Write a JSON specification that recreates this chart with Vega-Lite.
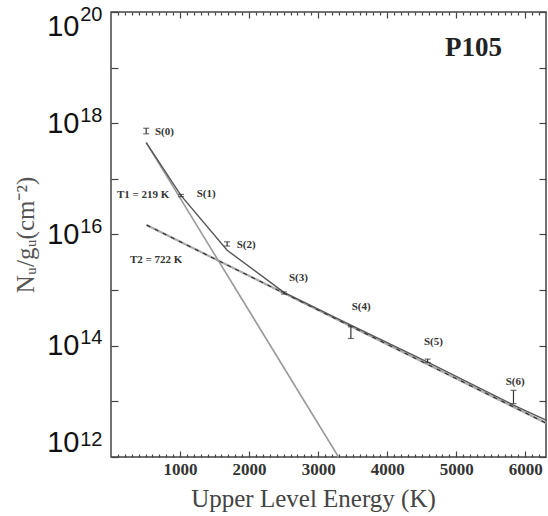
{
  "$schema": "https://vega.github.io/schema/vega-lite/v6.json",
  "width": 435,
  "height": 445,
  "autosize": "none",
  "padding": {"left": 111, "top": 12, "right": 2, "bottom": 59},
  "background": "white",
  "config": {
    "view": {"stroke": "#444", "strokeWidth": 1.5},
    "axis": {"domain": false, "grid": false, "tickColor": "#444", "tickWidth": 1.2}
  },
  "datasets": {
    "lines": [
      {"series": "T2", "E": 515, "N": 1.48e16},
      {"series": "T2", "E": 6300, "N": 4.07e12},
      {"series": "T1", "E": 510, "N": 4.47e17},
      {"series": "T1", "E": 3295, "N": 1e12},
      {"series": "Fit", "E": 510, "N": 4.47e17},
      {"series": "Fit", "E": 1015, "N": 5.0e16},
      {"series": "Fit", "E": 1682, "N": 5.2e15},
      {"series": "Fit", "E": 2504, "N": 9.1e14},
      {"series": "Fit", "E": 3474, "N": 2.34e14},
      {"series": "Fit", "E": 4586, "N": 5.1e13},
      {"series": "Fit", "E": 5829, "N": 8.6e12},
      {"series": "Fit", "E": 6300, "N": 4.6e12}
    ],
    "points": [
      {"name": "S(0)", "E": 510, "lo": 6.46e17, "hi": 8.13e17},
      {"name": "S(1)", "E": 1015, "lo": 4.8e16, "hi": 5.25e16},
      {"name": "S(2)", "E": 1682, "lo": 6.2e15, "hi": 7.4e15},
      {"name": "S(3)", "E": 2504, "lo": 8.5e14, "hi": 9.3e14},
      {"name": "S(4)", "E": 3474, "lo": 1.35e14, "hi": 2.19e14},
      {"name": "S(5)", "E": 4586, "lo": 5.0e13, "hi": 5.75e13},
      {"name": "S(6)", "E": 5829, "lo": 9.1e12, "hi": 1.58e13}
    ],
    "labels": [
      {"label": "S(0)", "E": 637, "N": 7.1e17},
      {"label": "T1 = 219 K", "E": 87, "N": 5.1e16},
      {"label": "S(1)", "E": 1241, "N": 5.4e16},
      {"label": "S(2)", "E": 1820, "N": 6.5e15},
      {"label": "T2 = 722 K", "E": 275, "N": 3.5e15},
      {"label": "S(3)", "E": 2578, "N": 1.66e15},
      {"label": "S(4)", "E": 3485, "N": 5.0e14},
      {"label": "S(5)", "E": 4533, "N": 1.17e14},
      {"label": "S(6)", "E": 5716, "N": 2.24e13}
    ],
    "title": [
      {"label": "P105", "E": 4837, "N": 2.3e19}
    ]
  },
  "resolve": {"axis": {"x": "independent", "y": "independent"}},
  "layer": [
    {
      "data": {"name": "lines"},
      "transform": [{"filter": "datum.series == 'T2'"}],
      "mark": {"type": "line", "color": "#aaaaaa", "strokeWidth": 2.2},
      "encoding": {
        "x": {"field": "E", "type": "quantitative",
          "scale": {"domain": [0, 6300], "nice": false, "zero": false},
          "axis": {"orient": "bottom", "values": [1000, 2000, 3000, 4000, 5000, 6000],
            "tickSize": -6, "labelPadding": 10, "labelFont": "Liberation Serif", "labelFontWeight": "bold",
            "labelFontSize": 17, "labelColor": "#333", "format": "d",
            "title": "Upper Level Energy (K)", "titleFont": "Liberation Serif", "titleFontWeight": "normal",
            "titleFontSize": 25, "titleColor": "#444", "titleX": 202, "titleY": 49,
            "titleAlign": "center", "titleBaseline": "alphabetic"}},
        "y": {"field": "N", "type": "quantitative",
          "scale": {"type": "log", "domain": [1e12, 1e20], "nice": false},
          "axis": {"orient": "left", "values": [1e12, 1e13, 1e14, 1e15, 1e16, 1e17, 1e18, 1e19, 1e20],
            "tickSize": -7, "labelPadding": 39, "labelFlush": true,
            "labelExpr": "round(log(datum.value)/LN10) % 2 == 0 ? '10' : ''",
            "labelFont": "Liberation Sans", "labelFontSize": 29, "labelColor": "#111",
            "title": "Nᵤ/gᵤ(cm⁻²)", "titleFont": "Liberation Serif", "titleFontWeight": "normal",
            "titleFontSize": 25, "titleColor": "#555", "titlePadding": 8}},
        "detail": {"field": "series"}
      }
    },
    {
      "data": {"name": "lines"},
      "transform": [{"filter": "datum.series == 'T2'"}],
      "mark": {"type": "line", "color": "#333333", "strokeWidth": 1.3, "strokeDash": [4, 5]},
      "encoding": {
        "x": {"field": "E", "type": "quantitative",
          "axis": {"orient": "bottom", "values": [100,200,300,400,500,600,700,800,900,1100,1200,1300,1400,1500,1600,1700,1800,1900,2100,2200,2300,2400,2500,2600,2700,2800,2900,3100,3200,3300,3400,3500,3600,3700,3800,3900,4100,4200,4300,4400,4500,4600,4700,4800,4900,5100,5200,5300,5400,5500,5600,5700,5800,5900,6100,6200],
            "tickSize": -3, "labels": false, "title": null}},
        "y": {"field": "N", "type": "quantitative",
          "axis": {"orient": "right", "values": [1e12, 1e13, 1e14, 1e15, 1e16, 1e17, 1e18, 1e19, 1e20],
            "tickSize": -7, "labels": false, "title": null}}
      }
    },
    {
      "data": {"name": "lines"},
      "transform": [{"filter": "datum.series == 'T1'"}],
      "mark": {"type": "line", "color": "#999999", "strokeWidth": 1.6, "clip": true},
      "encoding": {
        "x": {"field": "E", "type": "quantitative",
          "axis": {"orient": "top", "values": [1000, 2000, 3000, 4000, 5000, 6000],
            "tickSize": -6, "labels": false, "title": null}},
        "y": {"field": "N", "type": "quantitative",
          "axis": {"orient": "left", "values": [1e12, 1e14, 1e16, 1e18, 1e20],
            "ticks": false, "labelPadding": 9, "labelFlush": true, "labelOffset": -8,
            "labelExpr": "'' + round(log(datum.value)/LN10)",
            "labelFont": "Liberation Sans", "labelFontSize": 20, "labelColor": "#111", "title": null}}
      }
    },
    {
      "data": {"name": "lines"},
      "transform": [{"filter": "datum.series == 'Fit'"}],
      "mark": {"type": "line", "color": "#555555", "strokeWidth": 1.4},
      "encoding": {
        "x": {"field": "E", "type": "quantitative",
          "axis": {"orient": "top", "values": [100,200,300,400,500,600,700,800,900,1100,1200,1300,1400,1500,1600,1700,1800,1900,2100,2200,2300,2400,2500,2600,2700,2800,2900,3100,3200,3300,3400,3500,3600,3700,3800,3900,4100,4200,4300,4400,4500,4600,4700,4800,4900,5100,5200,5300,5400,5500,5600,5700,5800,5900,6100,6200],
            "tickSize": -3, "labels": false, "title": null}},
        "y": {"field": "N", "type": "quantitative", "axis": null}
      }
    },
    {
      "data": {"name": "points"},
      "mark": {"type": "errorbar", "color": "#333333", "thickness": 1.2, "ticks": {"size": 6, "color": "#333333"}},
      "encoding": {
        "x": {"field": "E", "type": "quantitative", "axis": null},
        "y": {"field": "lo", "type": "quantitative", "axis": null},
        "y2": {"field": "hi"}
      }
    },
    {
      "data": {"name": "labels"},
      "mark": {"type": "text", "align": "left", "baseline": "middle", "font": "Liberation Serif", "fontWeight": "bold", "fontSize": 11, "color": "#333333"},
      "encoding": {
        "x": {"field": "E", "type": "quantitative", "axis": null},
        "y": {"field": "N", "type": "quantitative", "axis": null},
        "text": {"field": "label"}
      }
    },
    {
      "data": {"name": "title"},
      "mark": {"type": "text", "align": "left", "baseline": "middle", "font": "Liberation Serif", "fontWeight": "bold", "fontSize": 27, "color": "#222222"},
      "encoding": {
        "x": {"field": "E", "type": "quantitative", "axis": null},
        "y": {"field": "N", "type": "quantitative", "axis": null},
        "text": {"field": "label"}
      }
    }
  ]
}
